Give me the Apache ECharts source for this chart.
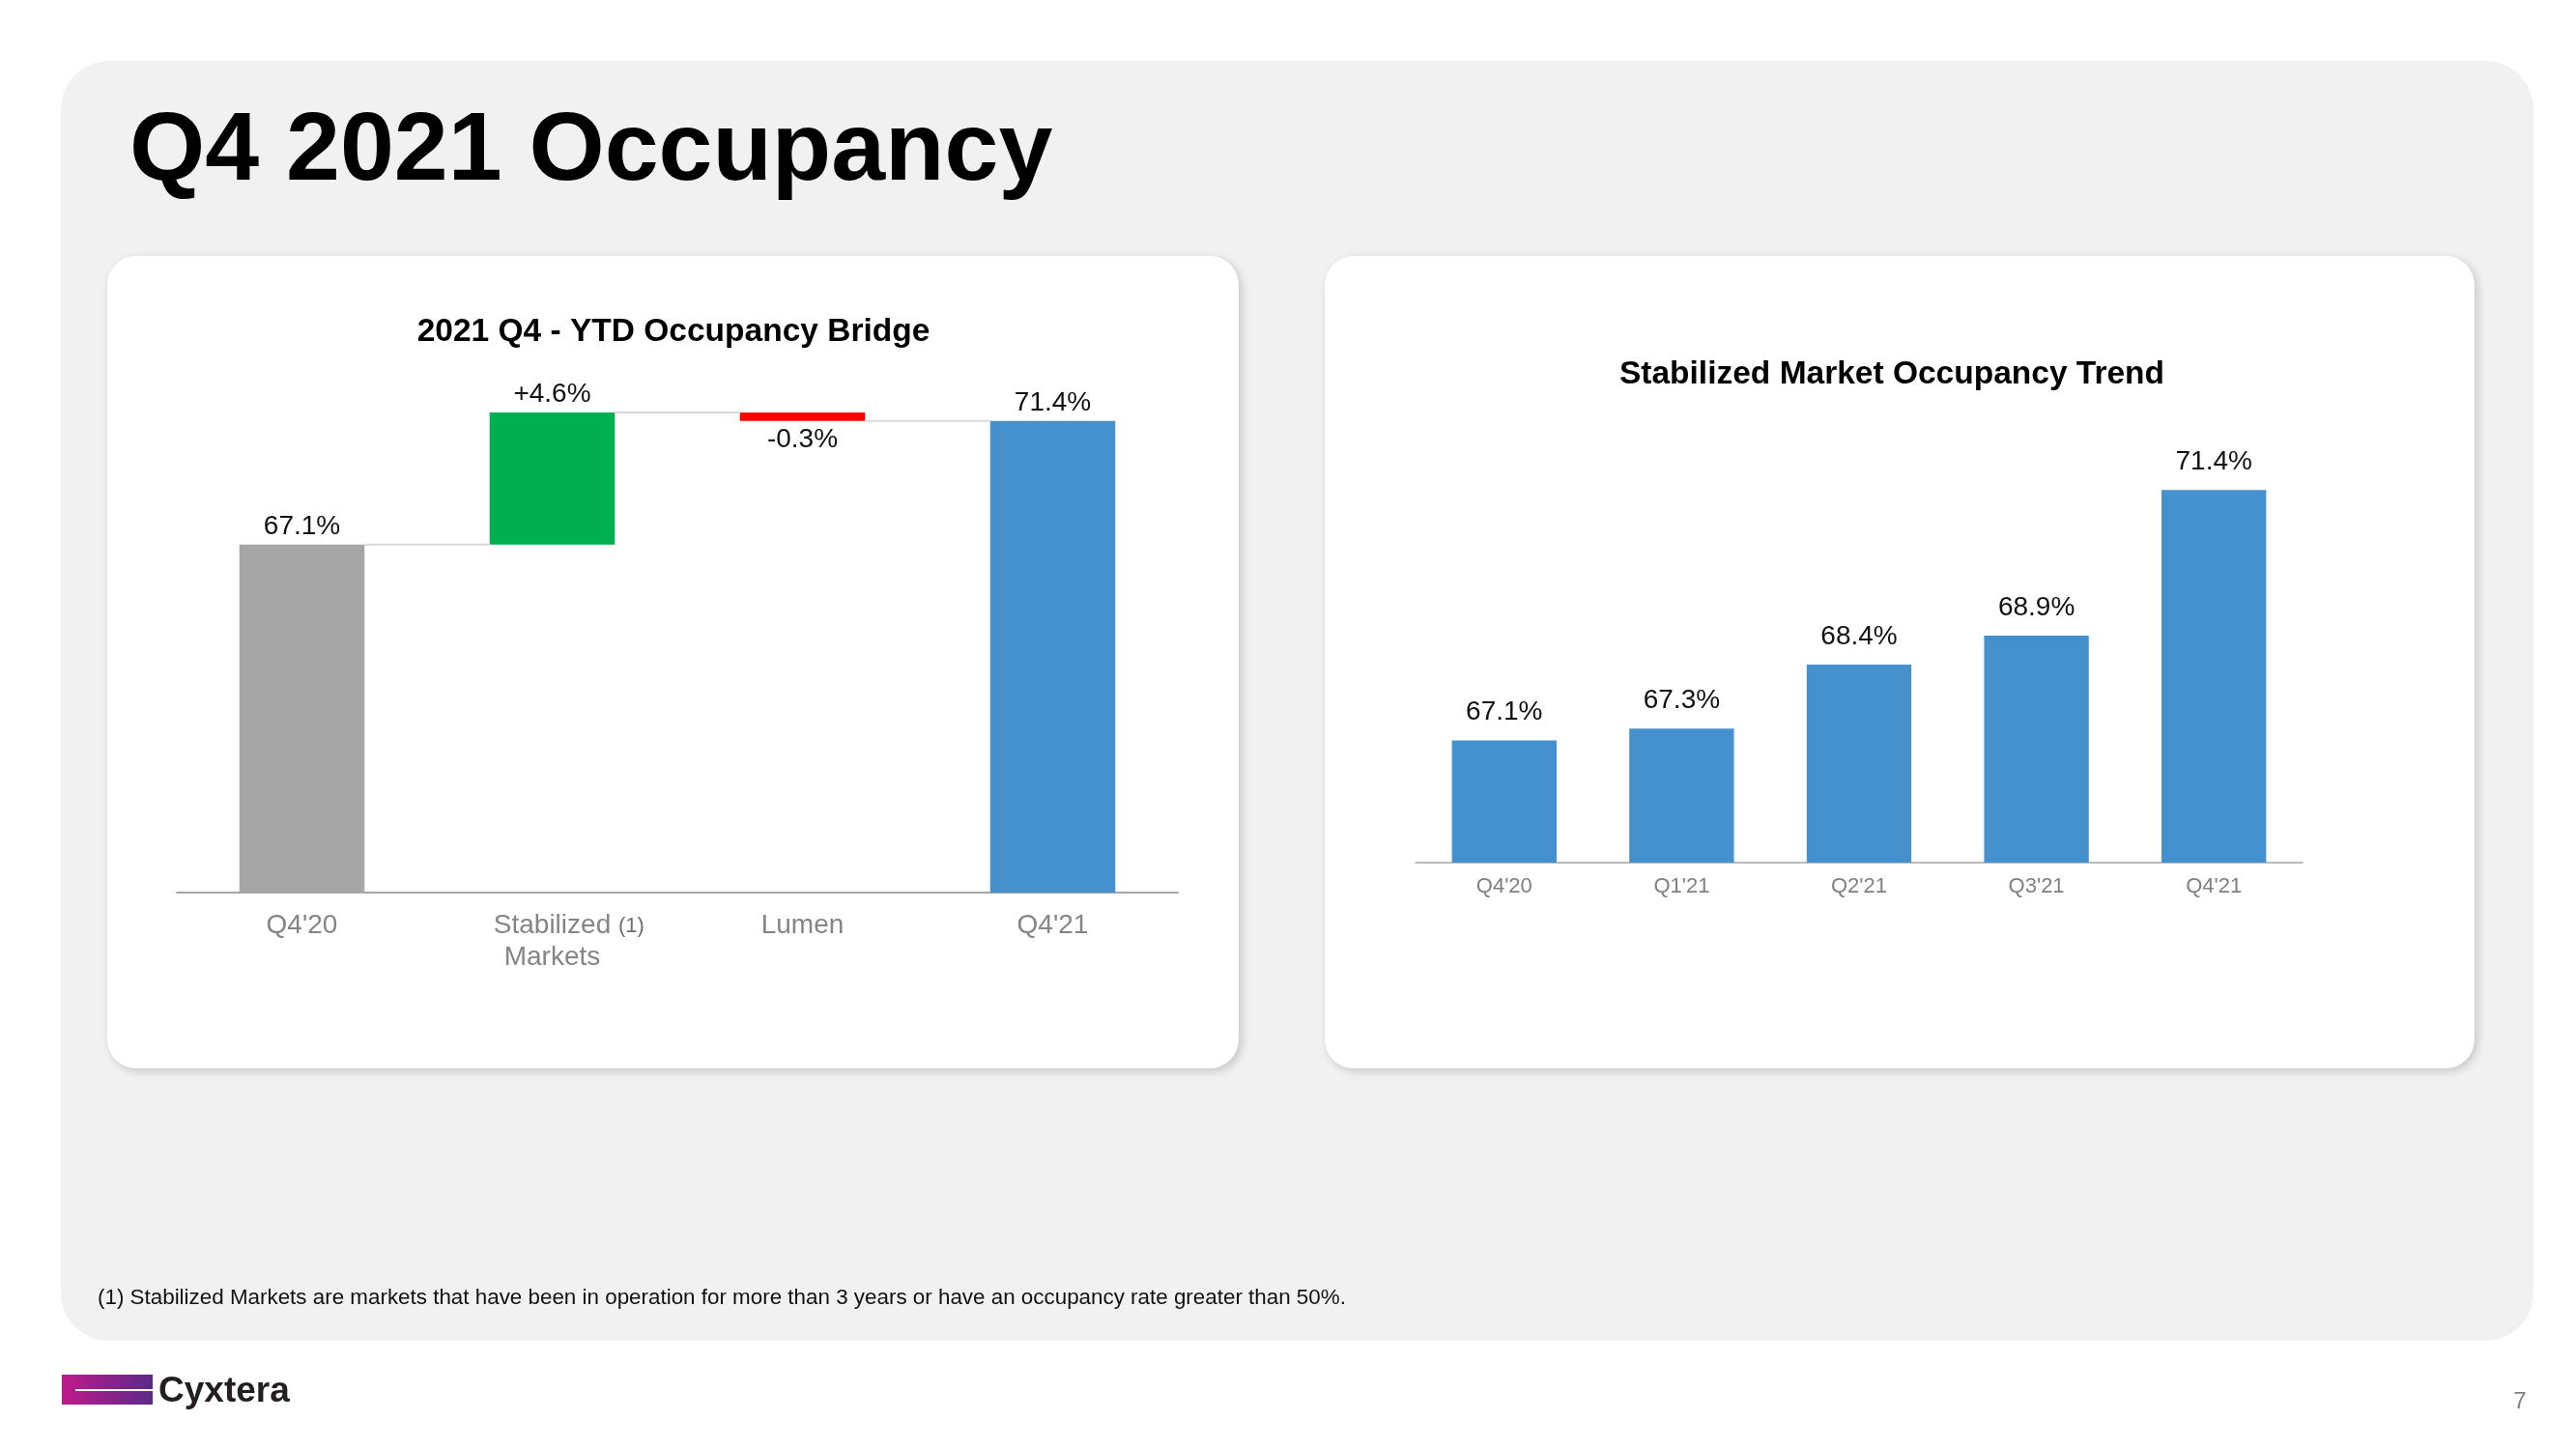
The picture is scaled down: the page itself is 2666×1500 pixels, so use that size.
<!DOCTYPE html>
<html><head><meta charset="utf-8">
<script src="https://cdn.jsdelivr.net/npm/echarts@6/dist/echarts.min.js"></script>
<style>html,body{margin:0;padding:0;background:#fff}#c{width:2666px;height:1500px}</style>
</head><body><div id="c"></div>
<script>
// ---- data ----
const bridgeCategories = ["Q4'20", "Stabilized Markets", "Lumen", "Q4'21"];
const bridgeStart = 67.1;
const bridgeDeltas = [4.6, -0.3];
const bridgeEnd = 71.4;
const trendCategories = ["Q4'20", "Q1'21", "Q2'21", "Q3'21", "Q4'21"];
const trendValues = [67.1, 67.3, 68.4, 68.9, 71.4];
const footnoteText = "(1) Stabilized Markets are markets that have been in operation for more than 3 years or have an occupancy rate greater than 50%.";

// ---- derived waterfall arrays ----
const FONT = "'Liberation Sans', Arial, Helvetica, sans-serif";
const bridgeBase = [0];
const bridgeVal = [bridgeStart];
const bridgeLabels = [bridgeStart.toFixed(1) + '%'];
const bridgeColors = ['#a6a6a6'];
const connectors = [[0, bridgeStart]];
let cum = bridgeStart;
bridgeDeltas.forEach((d, i) => {
  if (d >= 0) { bridgeBase.push(cum); bridgeVal.push(d); bridgeColors.push('#00b050'); }
  else { bridgeBase.push(cum + d); bridgeVal.push(-d); bridgeColors.push('#ff0000'); }
  bridgeLabels.push((d > 0 ? '+' : '') + d.toFixed(1) + '%');
  cum += d;
  connectors.push([i + 1, cum]);
});
bridgeBase.push(0); bridgeVal.push(bridgeEnd); bridgeLabels.push(bridgeEnd.toFixed(1) + '%'); bridgeColors.push('#4591cd');
const deltaSigns = [1].concat(bridgeDeltas.map(d => d >= 0 ? 1 : -1)).concat([1]);

const chart = echarts.init(document.getElementById('c'), null, {renderer: 'canvas'});

const BAR_RATIO_L = 0.5;

chart.setOption({
  backgroundColor: '#ffffff',
  animation: false,
  textStyle: {fontFamily: FONT},
  graphic: [
    {type: 'rect', z: -10, shape: {x: 63, y: 63, width: 2559, height: 1325, r: 50}, style: {fill: '#f1f1f1'}},
    {type: 'rect', z: -9, shape: {x: 111, y: 265, width: 1171, height: 841, r: 30},
      style: {fill: '#ffffff', shadowBlur: 10, shadowOffsetX: 3, shadowOffsetY: 3, shadowColor: 'rgba(0,0,0,0.18)'}},
    {type: 'rect', z: -9, shape: {x: 1371, y: 265, width: 1190, height: 841, r: 30},
      style: {fill: '#ffffff', shadowBlur: 10, shadowOffsetX: 3, shadowOffsetY: 3, shadowColor: 'rgba(0,0,0,0.18)'}},
    {type: 'text', z: 5, x: 134, y: 158, style: {text: 'Q4 2021 Occupancy', font: "bold 100.5px " + FONT, fill: '#000', textAlign: 'left', textVerticalAlign: 'middle'}},
    {type: 'text', z: 5, x: 697, y: 344, style: {text: '2021 Q4 - YTD Occupancy Bridge', font: "bold 33.5px " + FONT, fill: '#000', textAlign: 'center', textVerticalAlign: 'middle'}},
    {type: 'text', z: 5, x: 1958, y: 388, style: {text: 'Stabilized Market Occupancy Trend', font: "bold 33.5px " + FONT, fill: '#000', textAlign: 'center', textVerticalAlign: 'middle'}},
    {type: 'text', z: 5, x: 101, y: 1344, style: {text: footnoteText, font: "22.4px " + FONT, fill: '#111', textAlign: 'left', textVerticalAlign: 'middle'}},
    {type: 'rect', z: 5, shape: {x: 64, y: 1423, width: 94, height: 31},
      style: {fill: new echarts.graphic.LinearGradient(0, 0, 1, 0, [{offset: 0, color: '#c0198b'}, {offset: 1, color: '#5a2a8a'}])}},
    {type: 'rect', z: 6, shape: {x: 78, y: 1438, width: 80, height: 2}, style: {fill: '#ffffff'}},
    {type: 'text', z: 5, x: 164, y: 1441, style: {text: 'Cyxtera', font: "bold 37px " + FONT, fill: '#231f20', textAlign: 'left', textVerticalAlign: 'middle'}},
    {type: 'text', z: 5, x: 2608, y: 1451, style: {text: '7', font: "24px " + FONT, fill: '#7f7f7f', textAlign: 'center', textVerticalAlign: 'middle'}}
  ],
  grid: [
    {left: 183, width: 1036, top: 418, height: 506},
    {left: 1465, width: 918, top: 471, height: 422}
  ],
  xAxis: [
    {type: 'category', gridIndex: 0, data: bridgeCategories,
      axisLine: {lineStyle: {color: '#a6a6a6', width: 2}}, axisTick: {show: false},
      axisLabel: {interval: 0, margin: 18, color: '#858585', fontSize: 28, lineHeight: 33, fontFamily: FONT,
        formatter: v => v === 'Stabilized Markets' ? '{sp|(1)}{a| Stabilized }{b|(1)}\n{a|Markets}' : '{a|' + v + '}',
        rich: {
          a: {fontSize: 28, lineHeight: 33, color: '#858585', fontFamily: FONT},
          b: {fontSize: 22, lineHeight: 33, color: '#6f6f6f', fontFamily: FONT},
          sp: {fontSize: 22, lineHeight: 33, color: 'rgba(0,0,0,0)', fontFamily: FONT}
        }}},
    {type: 'category', gridIndex: 1, data: trendCategories,
      axisLine: {lineStyle: {color: '#a6a6a6', width: 1.5}}, axisTick: {show: false},
      axisLabel: {interval: 0, margin: 14, color: '#808080', fontSize: 22, fontFamily: FONT}}
  ],
  yAxis: [
    {type: 'value', gridIndex: 0, min: 55, max: 72, show: false, splitLine: {show: false}},
    {type: 'value', gridIndex: 1, min: 65, max: 72, show: false, splitLine: {show: false}}
  ],
  series: [
    {type: 'bar', xAxisIndex: 0, yAxisIndex: 0, stack: 'wf', barCategoryGap: '50%', silent: true,
      itemStyle: {color: 'rgba(0,0,0,0)'}, data: bridgeBase},
    {type: 'bar', xAxisIndex: 0, yAxisIndex: 0, stack: 'wf', barCategoryGap: '50%',
      data: bridgeVal.map((v, i) => ({
        value: v,
        itemStyle: {color: bridgeColors[i]},
        label: {show: true, position: deltaSigns[i] < 0 ? 'bottom' : 'top', distance: 5,
          formatter: bridgeLabels[i], fontSize: 28, color: '#111', fontFamily: FONT}
      }))},
    {type: 'custom', xAxisIndex: 0, yAxisIndex: 0, silent: true, z: 3,
      data: connectors,
      renderItem: (params, api) => {
        const i = api.value(0), lvl = api.value(1);
        const p = api.coord([i, lvl]);
        const q = api.coord([i + 1, lvl]);
        const bw = api.size([1, 0])[0] * BAR_RATIO_L;
        return {type: 'line', shape: {x1: p[0] + bw / 2, y1: p[1], x2: q[0] - bw / 2, y2: p[1]},
          style: {stroke: '#d9d9d9', lineWidth: 2}};
      }},
    {type: 'bar', xAxisIndex: 1, yAxisIndex: 1, barCategoryGap: '41%', data: trendValues,
      itemStyle: {color: '#4591cd'},
      label: {show: true, position: 'top', distance: 15, fontSize: 28, color: '#111', fontFamily: FONT,
        formatter: p => p.value.toFixed(1) + '%'}}
  ]
});
</script></body></html>
